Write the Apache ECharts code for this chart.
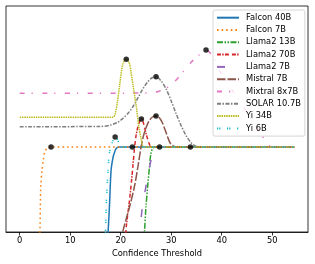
<!DOCTYPE html>
<html>
<head>
<meta charset="utf-8">
<script src="https://cdn.jsdelivr.net/npm/echarts@6/dist/echarts.min.js"></script>
<style>
html,body{margin:0;padding:0;background:#fff;}
#chart{width:315px;height:264px;}
</style>
</head>
<body>
<div id="chart"></div>
<script>
// ---- data ----
const seriesNames = ['Falcon 40B','Falcon 7B','Llama2 13B','Llama2 70B','Llama2 7B','Mistral 7B','Mixtral 8x7B','SOLAR 10.7B','Yi 34B','Yi 6B'];
const xTickValues = [0,10,20,30,40,50];

const falcon40bX = [17.3, 17.5, 17.8, 18.1, 18.5, 18.8, 19.1, 19.6, 20.2, 54.4];
const falcon40bY = [-10, 0, 29, 62, 75, 80, 83.5, 85, 85, 85];

const falcon7bX = [3.95, 4.02, 4.16, 4.42, 4.7, 4.95, 5.4, 5.94, 54.4];
const falcon7bY = [-10, 4, 45, 62, 73, 80, 83.5, 85, 85];

const llama13bX = [24.5, 24.7, 25.0, 25.4, 25.7, 26.0, 26.4, 26.8, 54.4];
const llama13bY = [-10, 0, 25, 49, 65, 79, 84, 85, 85];

const llama70bX = [20.9, 21.1, 21.75, 22.1, 22.4, 22.7, 23.0, 23.4, 23.8, 24.1, 24.5, 25.0, 25.6, 26.1, 54.4];
const llama70bY = [-10, 5, 32, 49, 65, 82, 95, 105, 111, 113, 109, 99, 89, 85, 85];

const llama7bX = [23.6, 23.8, 24.25, 25.05, 26.0, 26.4, 26.8, 54.4];
const llama7bY = [-10, 0, 23, 47, 72, 82, 85, 85];

const mistralX = [20.2, 20.4, 21.75, 22.7, 23.4, 24.0, 24.5, 25.0, 25.6, 26.3, 27.0, 27.7, 28.3, 28.8, 29.3, 29.8, 30.4, 31.0, 54.4];
const mistralY = [-10, 0, 25, 45, 65, 84, 96, 104, 111, 115, 116, 114, 108.7, 102, 95, 89, 86, 85, 85];

const mixtralX = [0, 26.0, 28.0, 30.0, 32.0, 34.0, 35.5, 36.9, 40.0, 43.0, 46.0, 47.8, 48.8, 49.5, 50.2, 54.4];
const mixtralY = [138.7, 139, 141.5, 147, 158, 170, 177, 182, 158, 135, 112, 98, 90, 86, 85, 85];

const solarX = [0, 16, 18, 19.5, 20.5, 21.5, 22.5, 23.5, 24.5, 25.5, 26.3, 27.0, 28.0, 29.0, 30.0, 31.0, 32.0, 33.0, 34.0, 35.0, 35.5, 54.4];
const solarY = [105.3, 105.5, 107, 110, 114, 119, 126, 135, 144, 151, 154.5, 155.3, 151, 143, 131, 118, 106, 96, 89, 85.5, 85, 85];

const yi34bX = [0, 18.4, 18.9, 19.4, 19.8, 20.1, 20.5, 21.1, 21.7, 22.1, 22.4, 22.8, 23.1, 23.6, 24.1, 24.6, 54.4];
const yi34bY = [114.7, 114.7, 118, 132, 147, 159, 169, 172.7, 169, 158, 148, 135, 125, 105, 92, 85, 85];

const yi6bX = [17.0, 17.15, 17.5, 17.8, 18.5, 18.9, 19.4, 19.8, 20.2, 54.4];
const yi6bY = [-1, 27, 62, 80, 92, 95, 92, 87, 85, 85];

// black marker dots
const peakX = [6.2, 18.9, 21.1, 22.3, 24.1, 27.0, 27.0, 27.7, 33.8, 36.9];
const peakY = [85, 95, 172.7, 85, 113, 116, 155.3, 85, 85, 182];

// ---- styles ----
const colors = ['#1f77b4','#ff7f0e','#2ca02c','#d62728','#9467bd','#8c564b','#e377c2','#7f7f7f','#bcbd22','#17becf'];
const dashes = [
  'solid',
  [1.6, 3],
  [6, 1.5, 1.5, 1.5, 1.5, 1.5],
  [4, 1.2, 1.5, 1.2, 4, 3],
  [8, 17],
  [8.5, 2],
  [5, 7, 1.2, 9.5],
  [4, 1.5, 1.5, 1.5],
  [1.5, 0.8],
  [1.2, 1, 1.2, 6.6]
];
const xs = [falcon40bX, falcon7bX, llama13bX, llama70bX, llama7bX, mistralX, mixtralX, solarX, yi34bX, yi6bX];
const ys = [falcon40bY, falcon7bY, llama13bY, llama70bY, llama7bY, mistralY, mixtralY, solarY, yi34bY, yi6bY];

const FONT = 'DejaVu Sans';
const series = seriesNames.map((name, i) => ({
  name: name,
  type: 'line',
  data: xs[i].map((x, j) => [x, ys[i][j]]),
  symbol: 'none',
  smooth: 0.3,
  clip: true,
  z: 2,
  lineStyle: { color: colors[i], width: 1.5, type: dashes[i], cap: 'butt' },
  itemStyle: { color: colors[i] },
  emphasis: { disabled: true }
}));
series.push({
  name: 'peaks',
  type: 'scatter',
  data: peakX.map((x, j) => [x, peakY[j]]),
  symbol: 'circle',
  symbolSize: 5.5,
  itemStyle: { color: '#000' },
  z: 5,
  emphasis: { disabled: true }
});

const chart = echarts.init(document.getElementById('chart'), null, { renderer: 'canvas' });
chart.setOption({
  animation: false,
  backgroundColor: '#fff',
  grid: { left: 6, right: 7, top: 6, bottom: 32, show: true, borderColor: '#000', borderWidth: 0.8, backgroundColor: 'transparent', containLabel: false },
  xAxis: {
    type: 'value', min: -2.72, max: 57.1,
    name: 'Confidence Threshold', nameLocation: 'middle', nameGap: 15,
    nameTextStyle: { fontFamily: FONT, fontSize: 8.3, color: '#000' },
    axisLine: { show: true, lineStyle: { color: '#000', width: 0.8 } },
    axisTick: { show: true, customValues: xTickValues, length: 3.5, lineStyle: { color: '#000', width: 0.8 } },
    axisLabel: { show: true, customValues: xTickValues, margin: 5, fontFamily: FONT, fontSize: 8.3, color: '#000' },
    splitLine: { show: false }
  },
  yAxis: {
    type: 'value', min: 0, max: 226,
    axisLine: { show: false }, axisTick: { show: false }, axisLabel: { show: false }, splitLine: { show: false }
  },
  legend: {
    data: seriesNames,
    orient: 'vertical',
    left: 213, top: 10,
    padding: [3.7, 4, 3.7, 3],
    itemWidth: 22, itemHeight: 8, itemGap: 4.3,
    itemStyle: { opacity: 0 },
    backgroundColor: 'rgba(255,255,255,0.8)',
    borderColor: '#cccccc', borderWidth: 0.8, borderRadius: 2,
    textStyle: { fontFamily: FONT, fontSize: 8.3, color: '#000', padding: [0, 0, 0, 2] },
    selectedMode: false
  },
  series: series
});
</script>
</body>
</html>
